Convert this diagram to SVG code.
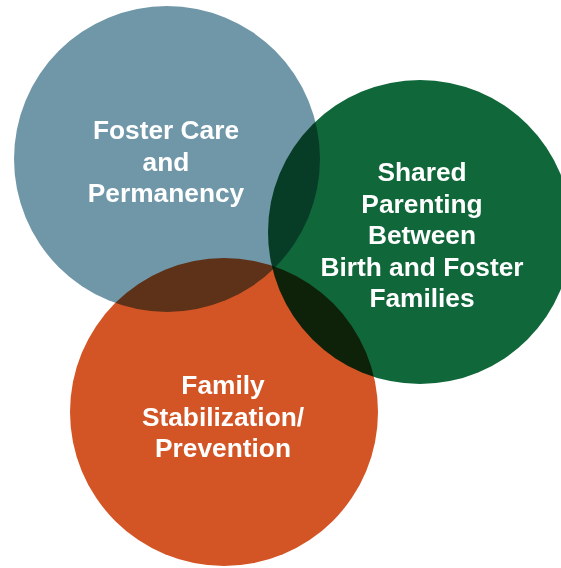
<svg xmlns="http://www.w3.org/2000/svg" width="561" height="568" viewBox="0 0 561 568">
<style>
.c{mix-blend-mode:multiply}
.t{font-family:"Liberation Sans",Arial,Helvetica,sans-serif;font-weight:bold;font-size:26.3px;fill:#ffffff;text-anchor:middle}
</style>
<rect width="561" height="568" fill="#ffffff"/>
<g id="connectors"></g>
<g id="node-foster" class="c"><circle cx="167" cy="159" r="153" fill="#7097a8"/></g>
<g id="node-shared" class="c"><circle cx="420" cy="232" r="152" fill="#10673a"/></g>
<g id="node-family" class="c"><circle cx="224" cy="412" r="154" fill="#d35424"/></g>
<g id="labels">
<text class="t" x="166" y="139">Foster Care</text>
<text class="t" x="166" y="170.5">and</text>
<text class="t" x="166" y="202">Permanency</text>
<text class="t" x="422" y="181">Shared</text>
<text class="t" x="422" y="212.5">Parenting</text>
<text class="t" x="422" y="244">Between</text>
<text class="t" x="422" y="275.5">Birth and Foster</text>
<text class="t" x="422" y="307">Families</text>
<text class="t" x="223" y="394">Family</text>
<text class="t" x="223" y="425.5">Stabilization/</text>
<text class="t" x="223" y="457">Prevention</text>
</g>
</svg>
